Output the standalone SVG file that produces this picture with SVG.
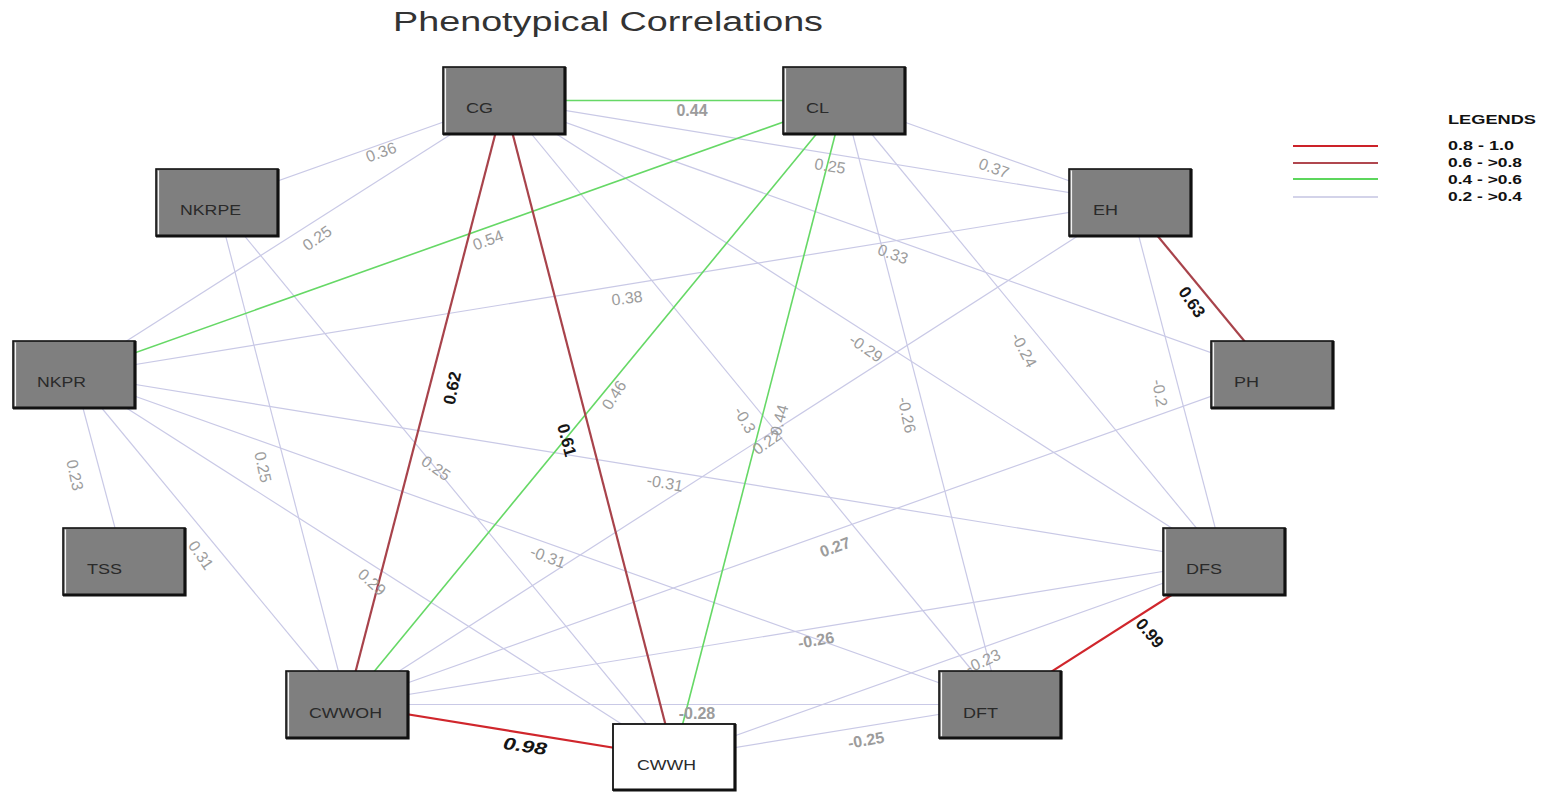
<svg xmlns="http://www.w3.org/2000/svg" width="1544" height="792" viewBox="0 0 1544 792">
<style>
.lav{stroke:#c9c9e6;stroke-width:1.2;fill:none}
.grn{stroke:#66d866;stroke-width:1.6;fill:none}
.rose{stroke:#a8434b;stroke-width:2.2;fill:none}
.red{stroke:#d0262c;stroke-width:2.2;fill:none}
.box{fill:#7f7f7f;stroke:#111;stroke-width:1.6}
.wbox{fill:#fff;stroke:#111;stroke-width:1.8}
.hl{stroke:#f2f2f2;stroke-width:1.2;fill:none}
.sh{stroke:#111;stroke-width:3.2;fill:none}
.nl{font-family:"Liberation Sans",Arial,sans-serif;font-size:14px;fill:#2a2a2a}
.el{font-family:"Liberation Sans",Arial,sans-serif;font-size:16px;fill:#9c9c9c;text-anchor:middle}
.eb{font-weight:bold}
.ek{font-family:"Liberation Sans",Arial,sans-serif;font-size:17px;font-weight:bold;fill:#151515;text-anchor:middle}
.lg{font-family:"Liberation Sans",Arial,sans-serif;font-size:12px;font-weight:bold;fill:#111}
</style>
<rect width="1544" height="792" fill="#fff"/>
<text x="393" y="31" font-family="Liberation Sans, Arial, sans-serif" font-size="27" fill="#333" textLength="430" lengthAdjust="spacingAndGlyphs">Phenotypical Correlations</text>

<g id="connectors">
<line class="lav" x1="504" y1="100.5" x2="217" y2="202.5"/>
<line class="lav" x1="504" y1="100.5" x2="74" y2="374.5"/>
<line class="lav" x1="504" y1="100.5" x2="1130" y2="202.5"/>
<line class="lav" x1="844" y1="100.5" x2="1130" y2="202.5"/>
<line class="lav" x1="504" y1="100.5" x2="1272" y2="374.5"/>
<line class="lav" x1="74" y1="374.5" x2="1130" y2="202.5"/>
<line class="lav" x1="504" y1="100.5" x2="1224" y2="561.5"/>
<line class="lav" x1="844" y1="100.5" x2="1224" y2="561.5"/>
<line class="lav" x1="504" y1="100.5" x2="1000" y2="704.5"/>
<line class="lav" x1="844" y1="100.5" x2="1000" y2="704.5"/>
<line class="lav" x1="347" y1="704.5" x2="1130" y2="202.5"/>
<line class="lav" x1="1130" y1="202.5" x2="1224" y2="561.5"/>
<line class="lav" x1="74" y1="374.5" x2="124" y2="561.5"/>
<line class="lav" x1="74" y1="374.5" x2="347" y2="704.5"/>
<line class="lav" x1="217" y1="202.5" x2="347" y2="704.5"/>
<line class="lav" x1="217" y1="202.5" x2="674" y2="757.5"/>
<line class="lav" x1="74" y1="374.5" x2="1000" y2="704.5"/>
<line class="lav" x1="74" y1="374.5" x2="1224" y2="561.5"/>
<line class="lav" x1="74" y1="374.5" x2="674" y2="757.5"/>
<line class="lav" x1="347" y1="704.5" x2="1272" y2="374.5"/>
<line class="lav" x1="347" y1="704.5" x2="1224" y2="561.5"/>
<line class="lav" x1="347" y1="704.5" x2="1000" y2="704.5"/>
<line class="lav" x1="674" y1="757.5" x2="1224" y2="561.5"/>
<line class="lav" x1="674" y1="757.5" x2="1000" y2="704.5"/>
<line class="grn" x1="504" y1="100.5" x2="844" y2="100.5"/>
<line class="grn" x1="844" y1="100.5" x2="74" y2="374.5"/>
<line class="grn" x1="844" y1="100.5" x2="347" y2="704.5"/>
<line class="grn" x1="844" y1="100.5" x2="674" y2="757.5"/>
<line class="rose" x1="504" y1="100.5" x2="347" y2="704.5"/>
<line class="rose" x1="504" y1="100.5" x2="674" y2="757.5"/>
<line class="rose" x1="1130" y1="202.5" x2="1272" y2="374.5"/>
<line class="red" x1="347" y1="704.5" x2="674" y2="757.5"/>
<line class="red" x1="1224" y1="561.5" x2="1000" y2="704.5"/>

<g id="edge-labels">
<text class="el eb" transform="translate(692,110)" dy="0.35em">0.44</text>
<text class="el" transform="translate(381,152) rotate(-20)" dy="0.35em">0.36</text>
<text class="el" transform="translate(317,238) rotate(-35)" dy="0.35em">0.25</text>
<text class="el" transform="translate(488,240) rotate(-20)" dy="0.35em">0.54</text>
<text class="el" transform="translate(830,166) rotate(9)" dy="0.35em">0.25</text>
<text class="el" transform="translate(994,168) rotate(20)" dy="0.35em">0.37</text>
<text class="el" transform="translate(893,254) rotate(20)" dy="0.35em">0.33</text>
<text class="el" transform="translate(627,298) rotate(-7)" dy="0.35em">0.38</text>
<text class="el" transform="translate(866,348) rotate(35)" dy="0.35em">-0.29</text>
<text class="el" transform="translate(1024,350) rotate(62)" dy="0.35em">-0.24</text>
<text class="el" transform="translate(614,395) rotate(-57)" dy="0.35em">0.46</text>
<text class="el" transform="translate(745,420) rotate(60)" dy="0.35em">-0.3</text>
<text class="el" transform="translate(779,420) rotate(-75)" dy="0.35em">0.44</text>
<text class="el" transform="translate(767,442) rotate(-35)" dy="0.35em">0.22</text>
<text class="el" transform="translate(907,415) rotate(78)" dy="0.35em">-0.26</text>
<text class="el" transform="translate(1160,393) rotate(80)" dy="0.35em">-0.2</text>
<text class="el" transform="translate(75,475) rotate(78)" dy="0.35em">0.23</text>
<text class="el" transform="translate(201,555) rotate(55)" dy="0.35em">0.31</text>
<text class="el" transform="translate(263,467) rotate(78)" dy="0.35em">0.25</text>
<text class="el" transform="translate(436,468) rotate(35)" dy="0.35em">0.25</text>
<text class="el" transform="translate(665,483) rotate(10)" dy="0.35em">-0.31</text>
<text class="el" transform="translate(548,557) rotate(20)" dy="0.35em">-0.31</text>
<text class="el" transform="translate(372,582) rotate(42)" dy="0.35em">0.29</text>
<text class="el eb" transform="translate(835,547) rotate(-20)" dy="0.35em">0.27</text>
<text class="el eb" transform="translate(816,640) rotate(-10)" dy="0.35em">-0.26</text>
<text class="el eb" transform="translate(697,713)" dy="0.35em">-0.28</text>
<text class="el eb" transform="translate(866,740) rotate(-10)" dy="0.35em">-0.25</text>
<text class="el" transform="translate(983,661) rotate(-25)" dy="0.35em">-0.23</text>
<text class="ek" transform="translate(452,388) rotate(-78)" dy="0.35em">0.62</text>
<text class="ek" transform="translate(567,440) rotate(75)" dy="0.35em">0.61</text>
<text class="ek" transform="translate(1192,302) rotate(55)" dy="0.35em">0.63</text>
<text class="ek" transform="translate(1150,633) rotate(50)" dy="0.35em">0.99</text>
<text class="ek" transform="translate(525,746) rotate(8)" dy="0.35em" font-style="italic" textLength="44" lengthAdjust="spacingAndGlyphs">0.98</text>
</g>
</g>

<g id="node-CG"><rect class="box" x="443" y="67" width="122" height="67"/><path class="hl" d="M445.5 68.5V132.5"/><path class="sh" d="M565 67V134H443"/><text class="nl" x="466" y="113" textLength="27" lengthAdjust="spacingAndGlyphs">CG</text></g>
<g id="node-CL"><rect class="box" x="783" y="67" width="122" height="67"/><path class="hl" d="M785.5 68.5V132.5"/><path class="sh" d="M905 67V134H783"/><text class="nl" x="806" y="113" textLength="23" lengthAdjust="spacingAndGlyphs">CL</text></g>
<g id="node-NKRPE"><rect class="box" x="156" y="169" width="122" height="67"/><path class="hl" d="M158.5 170.5V234.5"/><path class="sh" d="M278 169V236H156"/><text class="nl" x="180" y="215" textLength="61" lengthAdjust="spacingAndGlyphs">NKRPE</text></g>
<g id="node-EH"><rect class="box" x="1069" y="169" width="122" height="67"/><path class="hl" d="M1071.5 170.5V234.5"/><path class="sh" d="M1191 169V236H1069"/><text class="nl" x="1093" y="215" textLength="25" lengthAdjust="spacingAndGlyphs">EH</text></g>
<g id="node-NKPR"><rect class="box" x="13" y="341" width="122" height="67"/><path class="hl" d="M15.5 342.5V406.5"/><path class="sh" d="M135 341V408H13"/><text class="nl" x="37" y="387" textLength="49" lengthAdjust="spacingAndGlyphs">NKPR</text></g>
<g id="node-PH"><rect class="box" x="1211" y="341" width="122" height="67"/><path class="hl" d="M1213.5 342.5V406.5"/><path class="sh" d="M1333 341V408H1211"/><text class="nl" x="1234" y="387" textLength="25" lengthAdjust="spacingAndGlyphs">PH</text></g>
<g id="node-TSS"><rect class="box" x="63" y="528" width="122" height="67"/><path class="hl" d="M65.5 529.5V593.5"/><path class="sh" d="M185 528V595H63"/><text class="nl" x="87" y="574" textLength="35" lengthAdjust="spacingAndGlyphs">TSS</text></g>
<g id="node-DFS"><rect class="box" x="1163" y="528" width="122" height="67"/><path class="hl" d="M1165.5 529.5V593.5"/><path class="sh" d="M1285 528V595H1163"/><text class="nl" x="1186" y="574" textLength="36" lengthAdjust="spacingAndGlyphs">DFS</text></g>
<g id="node-CWWOH"><rect class="box" x="286" y="671" width="122" height="67"/><path class="hl" d="M288.5 672.5V736.5"/><path class="sh" d="M408 671V738H286"/><text class="nl" x="309" y="718" textLength="73" lengthAdjust="spacingAndGlyphs">CWWOH</text></g>
<g id="node-DFT"><rect class="box" x="939" y="671" width="122" height="67"/><path class="hl" d="M941.5 672.5V736.5"/><path class="sh" d="M1061 671V738H939"/><text class="nl" x="963" y="718" textLength="35" lengthAdjust="spacingAndGlyphs">DFT</text></g>
<g id="node-CWWH"><rect class="wbox" x="613" y="724" width="122" height="66"/><path class="sh" d="M735 724V790H613"/><text class="nl" x="637" y="770" textLength="59" lengthAdjust="spacingAndGlyphs">CWWH</text></g>

<g id="legend">
<line x1="1293" y1="146" x2="1378" y2="146" stroke="#cc2229" stroke-width="2"/>
<line x1="1293" y1="163" x2="1378" y2="163" stroke="#b0474f" stroke-width="2"/>
<line x1="1293" y1="179" x2="1378" y2="179" stroke="#5cd65c" stroke-width="2"/>
<line x1="1293" y1="197" x2="1378" y2="197" stroke="#c4c4e2" stroke-width="1.5"/>
<text class="lg" x="1448" y="124" textLength="88" lengthAdjust="spacingAndGlyphs">LEGENDS</text>
<text class="lg" x="1448" y="150" textLength="66" lengthAdjust="spacingAndGlyphs">0.8 - 1.0</text>
<text class="lg" x="1448" y="167" textLength="74" lengthAdjust="spacingAndGlyphs">0.6 - &gt;0.8</text>
<text class="lg" x="1448" y="184" textLength="74" lengthAdjust="spacingAndGlyphs">0.4 - &gt;0.6</text>
<text class="lg" x="1448" y="201" textLength="74" lengthAdjust="spacingAndGlyphs">0.2 - &gt;0.4</text>
</g>
</svg>
